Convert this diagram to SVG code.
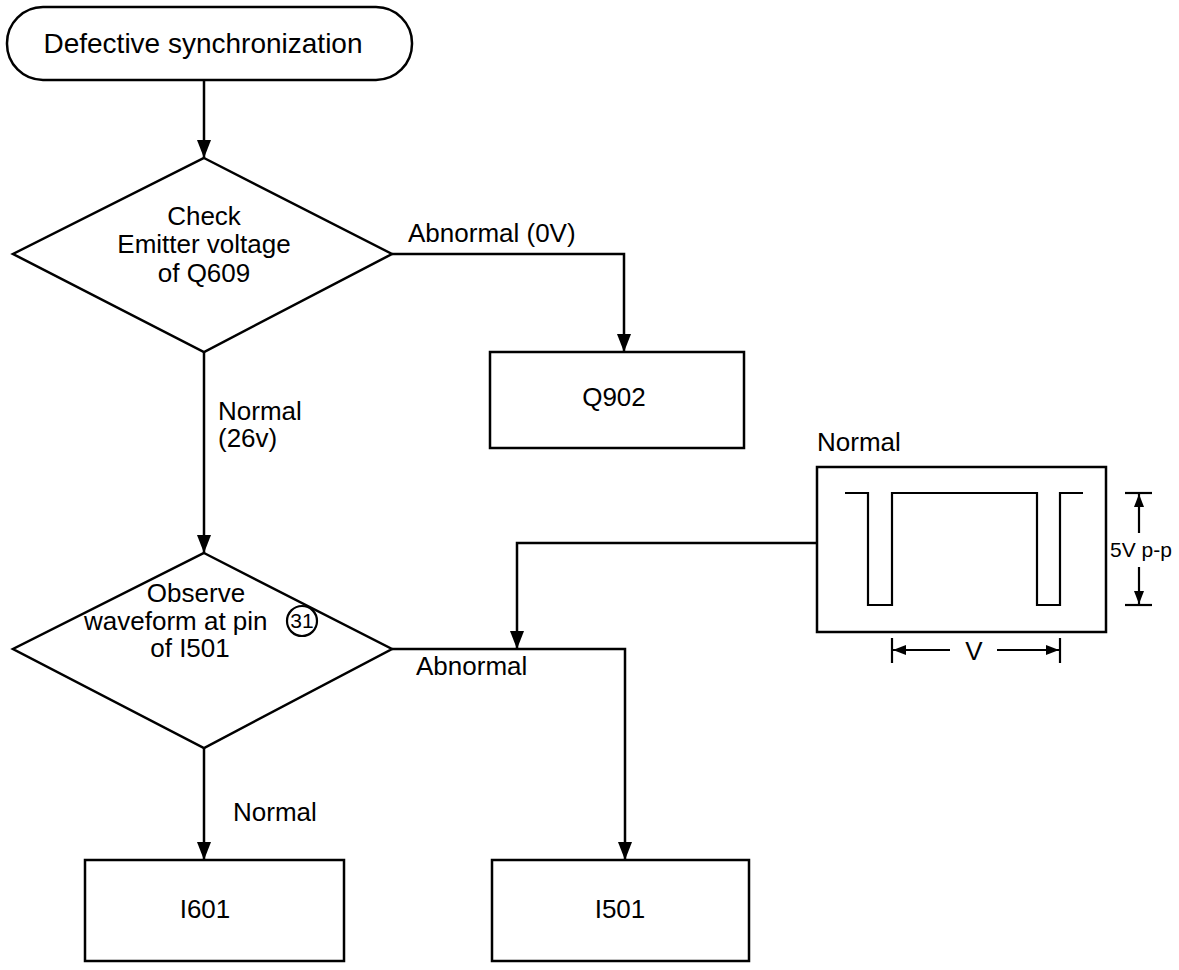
<svg xmlns="http://www.w3.org/2000/svg" width="1179" height="970" viewBox="0 0 1179 970">
  <style>
    .shape { fill: none; stroke: #000; stroke-width: 2.5; stroke-linejoin: miter; }
    .wire { fill: none; stroke: #000; stroke-width: 2.5; }
    .thin { fill: none; stroke: #000; stroke-width: 2.2; }
    text { font-family: "Liberation Sans", Arial, sans-serif; font-size: 26px; fill: #000; }
    .c { text-anchor: middle; }
    .title { font-size: 28px; }
    .small { font-size: 21px; }
  </style>
  <defs>
    <marker id="head" markerUnits="userSpaceOnUse" markerWidth="18" markerHeight="14" refX="18" refY="7" orient="auto" viewBox="0 0 18 14">
      <path d="M0,0 L18,7 L0,14 Z" fill="#000"/>
    </marker>
    <marker id="dim" markerUnits="userSpaceOnUse" markerWidth="13" markerHeight="10" refX="13" refY="5" orient="auto" viewBox="0 0 13 10">
      <path d="M0,0 L13,5 L0,10 Z" fill="#000"/>
    </marker>
  </defs>

  <!-- start terminal -->
  <g id="start">
    <rect class="shape" x="7" y="7" width="405" height="73" rx="36" ry="36"/>
    <text class="c title" x="203" y="53">Defective synchronization</text>
  </g>

  <!-- decision: emitter voltage -->
  <g id="check-q609">
    <polygon class="shape" points="204,158 392,254 204,352 13,254"/>
    <text class="c" x="204" y="225">Check</text>
    <text class="c" x="204" y="253">Emitter voltage</text>
    <text class="c" x="204" y="282">of Q609</text>
  </g>

  <g id="q902">
    <rect class="shape" x="490" y="352" width="254" height="96"/>
    <text class="c" x="614" y="406">Q902</text>
  </g>

  <!-- decision: waveform at pin 31 -->
  <g id="observe-i501">
    <polygon class="shape" points="204,553 392,649 204,748 13,649"/>
    <text class="c" x="196" y="602">Observe</text>
    <text x="84" y="630">waveform at pin</text>
    <circle class="thin" cx="302" cy="621" r="15"/>
    <text class="c small" x="302" y="628">31</text>
    <text class="c" x="190" y="657">of I501</text>
  </g>

  <g id="i601">
    <rect class="shape" x="85" y="860" width="259" height="101"/>
    <text class="c" x="205" y="918">I601</text>
  </g>

  <g id="i501">
    <rect class="shape" x="492" y="860" width="257" height="101"/>
    <text class="c" x="620" y="918">I501</text>
  </g>

  <!-- reference waveform -->
  <g id="waveform">
    <text x="817" y="451">Normal</text>
    <rect class="shape" x="817" y="467" width="289" height="165"/>
    <path class="thin" d="M845,493 H868 V605 H892 V493 H1037 V605 H1060 V493 H1083"/>
    <!-- amplitude dimension -->
    <line class="thin" x1="1125" y1="493" x2="1152" y2="493"/>
    <line class="thin" x1="1125" y1="605" x2="1152" y2="605"/>
    <line class="thin" x1="1139" y1="533" x2="1139" y2="494" marker-end="url(#dim)"/>
    <line class="thin" x1="1139" y1="567" x2="1139" y2="604" marker-end="url(#dim)"/>
    <text class="small" x="1110" y="557">5V p-p</text>
    <!-- period dimension -->
    <line class="thin" x1="892" y1="638" x2="892" y2="663"/>
    <line class="thin" x1="1060" y1="638" x2="1060" y2="663"/>
    <line class="thin" x1="950" y1="650" x2="893" y2="650" marker-end="url(#dim)"/>
    <line class="thin" x1="997" y1="650" x2="1059" y2="650" marker-end="url(#dim)"/>
    <text class="c" x="974" y="660">V</text>
  </g>

  <!-- connectors -->
  <g id="connectors">
    <line class="wire" x1="204" y1="80" x2="204" y2="158" marker-end="url(#head)"/>
    <path class="wire" d="M392,254 H624 V352" marker-end="url(#head)"/>
    <line class="wire" x1="204" y1="352" x2="204" y2="553" marker-end="url(#head)"/>
    <path class="wire" d="M392,649 H625 V860" marker-end="url(#head)"/>
    <path class="wire" d="M817,543 H517 V649" marker-end="url(#head)"/>
    <line class="wire" x1="204" y1="748" x2="204" y2="860" marker-end="url(#head)"/>
    <text x="408" y="242">Abnormal (0V)</text>
    <text x="218" y="420">Normal</text>
    <text x="218" y="447">(26v)</text>
    <text x="416" y="675">Abnormal</text>
    <text x="233" y="821">Normal</text>
  </g>
</svg>
